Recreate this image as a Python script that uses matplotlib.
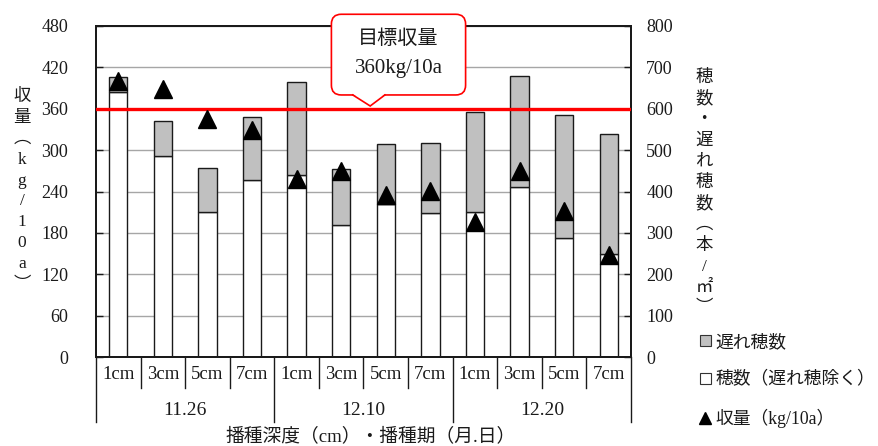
import numpy as np
import matplotlib.pyplot as plt
from matplotlib.patches import FancyBboxPatch, Polygon, Patch
from matplotlib.lines import Line2D

plt.rcParams['font.family'] = ['Liberation Serif', 'Noto Sans CJK JP']
plt.rcParams['text.color'] = '#1a1a1a'

# 播種深度 x 播種期
depth = ['1cm', '3cm', '5cm', '7cm'] * 3
sow_dates = ['11.26', '12.10', '12.20']

# 穂数（本/㎡）: 遅れ穂を除く穂数 + 遅れ穂数
ears_main = [641, 486, 350, 427, 440, 320, 370, 347, 350, 410, 287, 250]
ears_late = [36, 84, 107, 153, 224, 134, 144, 170, 241, 270, 299, 290]
# 収量（kg/10a）
grain_yield = [400, 388, 345, 329, 258, 270, 235, 241, 196, 270, 211, 148]
target = 360

EDGE = '#1a1a1a'
GRAY = '#c0c0c0'

fig = plt.figure(figsize=(8.79, 4.46), dpi=100)
ax = fig.add_axes([96 / 879, 89 / 446, 535 / 879, 331 / 446])
ax2 = ax.twinx()
ax.set_zorder(ax2.get_zorder() + 1)
ax.patch.set_visible(False)

x = np.arange(len(depth))

# 穂数（右軸）
ax2.bar(x, ears_main, 0.41, color='white', edgecolor=EDGE, lw=1, zorder=2)
ax2.bar(x, ears_late, 0.41, bottom=ears_main, color=GRAY, edgecolor=EDGE, lw=1, zorder=2)
ax2.set_ylim(0, 800)
ax2.set_yticks(range(0, 801, 100))
ax2.grid(axis='y', color='#a6a6a6', lw=1)
ax2.set_axisbelow(True)

# 収量（左軸）と目標収量
ax.plot(x, grain_yield, '^', color='black', ms=13, zorder=4)
ax.axhline(target, color='red', lw=2.4, zorder=3)
ax.set_ylim(0, 480)
ax.set_yticks(range(0, 481, 60))
ax.set_xlim(-0.5, len(depth) - 0.5)
ax.set_xticks([])

ax.tick_params(axis='y', direction='in', length=5, width=1, pad=20, labelsize=13, colors=EDGE)
ax2.tick_params(axis='y', direction='in', length=5, width=1, pad=11, labelsize=13, colors=EDGE)
for a in (ax, ax2):
    for s in a.spines.values():
        s.set_linewidth(1.4)
        s.set_color(EDGE)

# 横軸の表（深度・播種期）
trans = ax.get_xaxis_transform()
for i, d in enumerate(depth):
    ax.text(i, -0.054, d, transform=trans, ha='center', va='center', fontsize=13.5)
for g, d in enumerate(sow_dates):
    ax.text(g * 4 + 1.5, -0.163, d, transform=trans, ha='center', va='center', fontsize=14)
for b in range(len(depth) + 1):
    low = -0.196 if b % 4 == 0 else -0.094
    ax.plot([b - 0.5, b - 0.5], [0, low], transform=trans, color=EDGE, lw=1, clip_on=False)
ax.text(5.65, -0.238, '播種深度（cm）・播種期（月.日）', transform=trans,
        ha='center', va='center', fontsize=13.5)

# 縦書きの軸ラベル
left_label = ['収', '量', '︵', 'k', 'g', '/', '1', '0', 'a', '︶']
right_label = ['穂', '数', '・', '遅', 'れ', '穂', '数', '︵', '本', '/', '㎡', '︶']
fig.text(22 / 879, 1 - 191 / 446, '\n'.join(left_label), ha='center', va='center',
         fontsize=12.5, linespacing=1.4)
fig.text(704 / 879, 1 - 193 / 446, '\n'.join(right_label), ha='center', va='center',
         fontsize=12.5, linespacing=1.4)

# 吹き出し（目標収量）
box_l, box_r = 4.78, 7.79
box_b, box_t = target + 20, target + 137
tip_x, tip_y = 5.65, target + 4
base_l, base_r = 5.26, 5.98
aspect = (480 / 331) / (12 / 535)
callout = FancyBboxPatch((box_l, box_b), box_r - box_l, box_t - box_b,
                         boxstyle='round,pad=0,rounding_size=0.22', mutation_aspect=aspect,
                         fc='white', ec='red', lw=1.2, zorder=6, clip_on=False)
ax.add_patch(callout)
ax.add_patch(Polygon([(base_l, box_b + 1.5), (tip_x, tip_y), (base_r, box_b + 1.5)],
                     closed=True, fc='white', ec='none', zorder=7, clip_on=False))
ax.plot([base_l, tip_x, base_r], [box_b, tip_y, box_b], color='red', lw=1.2, zorder=8,
        clip_on=False, solid_joinstyle='miter')
ax.text((box_l + box_r) / 2, target + 100, '目標収量', ha='center', va='center',
        fontsize=14.5, zorder=9)
ax.text((box_l + box_r) / 2, target + 59, '360kg/10a', ha='center', va='center',
        fontsize=15, zorder=9)

# 凡例
handles = [Patch(fc=GRAY, ec='#333333', lw=0.8),
           Patch(fc='white', ec='#333333', lw=0.8),
           Line2D([], [], marker='^', ls='none', color='black', ms=8)]
labels = ['遅れ穂数', '穂数（遅れ穂除く）', '収量（kg/10a）']
fig.legend(handles, labels, loc='upper left', bbox_to_anchor=(700 / 879, 1 - 334 / 446),
           frameon=False, fontsize=12.8, handlelength=0.6, handleheight=0.6,
           handletextpad=0.25, labelspacing=1.15, borderpad=0, borderaxespad=0)

fig.savefig('out.png', dpi=100)
